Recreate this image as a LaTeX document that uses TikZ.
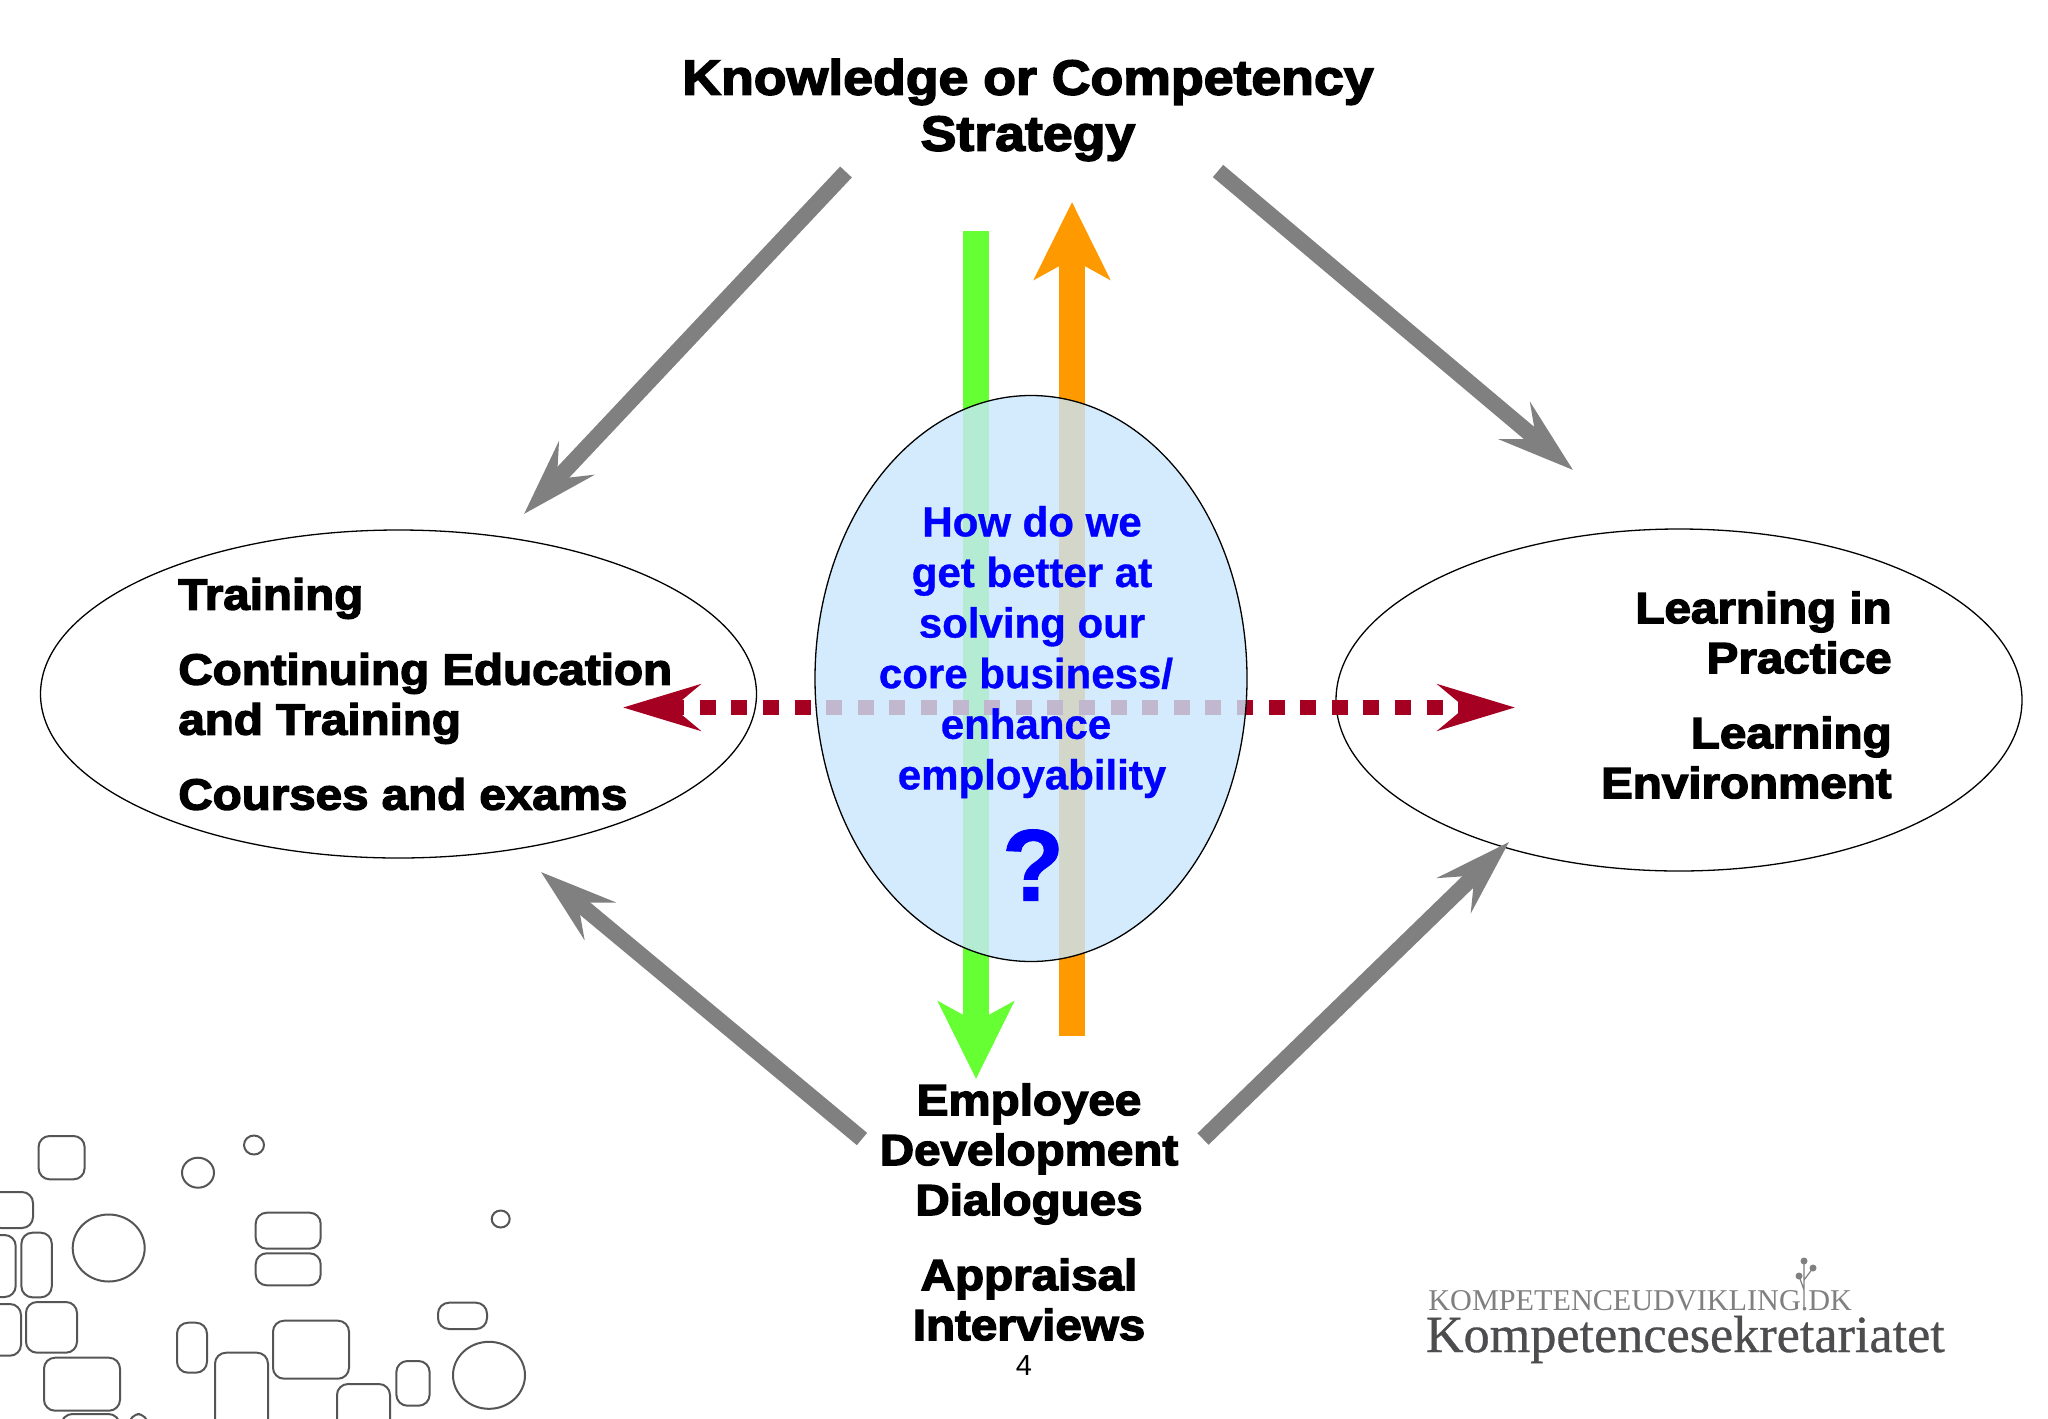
\documentclass[tikz,border=0pt]{standalone}
\usepackage{fontspec}
\setmainfont{Liberation Sans}
\newfontfamily\heavy[FakeBold=3.2,FakeStretch=1.09]{Liberation Sans Bold}
\newfontfamily\bluefont[FakeBold=0.8]{Liberation Sans Bold}
\newfontfamily\logofont{Liberation Serif}
\newfontfamily\logobold[FakeBold=0.6]{Liberation Serif}
\usetikzlibrary{arrows.meta,shapes.geometric,calc}
\definecolor{grayarrow}{HTML}{808080}
\definecolor{greenarrow}{HTML}{66FF33}
\definecolor{orangearrow}{HTML}{FF9900}
\definecolor{redarrow}{HTML}{A50021}
\definecolor{bubble}{RGB}{200,231,252}
\definecolor{blobline}{HTML}{555555}
\definecolor{logogray}{HTML}{808080}
\definecolor{logodark}{HTML}{4D4D4F}
\tikzset{
 x=0.5pt,y=-0.5pt,
 ell/.style={ellipse,draw=black,line width=0.65pt,inner sep=0pt,outer sep=0pt},
 grayline/.style={draw=grayarrow,line width=8pt,-{Stealth[length=38pt,width=24pt,inset=14pt,fill=grayarrow]}},
 bararrow/.style={line width=13pt},
 dotline/.style={draw=redarrow,line width=7.8pt,dash pattern=on 8pt off 7.8pt,dash phase=15pt,
   {Stealth[length=38.5pt,width=23pt,inset=13.5pt,fill=redarrow]}-{Stealth[length=38.5pt,width=23pt,inset=13.5pt,fill=redarrow]}},
 headtext/.style={font=\heavy\fontsize{21.8}{25}\selectfont,inner sep=0pt},
 titletext/.style={font=\heavy\fontsize{24.6}{28}\selectfont,inner sep=0pt,align=center},
 bluetext/.style={font=\bluefont\fontsize{21}{25.3}\selectfont,text=blue,inner sep=0pt,align=center},
 blob/.style={draw=blobline,line width=1pt,rounded corners=5.5pt},
}
\newcommand{\blobbox}[4]{\draw[blob] (#1,#3) rectangle (#2,#4);}
\newcommand{\blobring}[4]{\draw[draw=blobline,line width=1pt] (#1,#2) ellipse [x radius=#3*0.5pt,y radius=#4*0.5pt];}
\begin{document}
\begin{tikzpicture}
\useasboundingbox (0,0) rectangle (2048,1418);
\fill[white] (0,0) rectangle (2048,1418);
% decorative blobs
\blobbox{38.6}{84.6}{1136}{1179.3}
\blobbox{-10}{33}{1192}{1228}
\blobbox{-20}{15.7}{1235}{1297}
\blobbox{21.4}{51.8}{1232.7}{1297.3}
\blobbox{-20}{21}{1304}{1355.7}
\blobbox{26}{77}{1302}{1352.7}
\blobbox{44}{120}{1357.7}{1410.7}
\blobbox{61.4}{119.6}{1414}{1440}
\blobbox{129}{148}{1414}{1440}
\blobbox{255.7}{320.7}{1212.7}{1248.7}
\blobbox{255.7}{320.7}{1253.3}{1285.3}
\blobbox{177}{207}{1322.7}{1372.7}
\blobbox{215}{268}{1352.7}{1440}
\blobbox{273}{349}{1320.7}{1378.7}
\blobbox{337}{390}{1384}{1440}
\blobbox{396.4}{429.6}{1361}{1405.7}
\blobbox{438}{487}{1302.7}{1329}
\blobring{108.7}{1248}{36}{33.5}
\blobring{198}{1172.7}{16}{15}
\blobring{254}{1145}{10}{9.5}
\blobring{500.7}{1219}{9}{8.5}
\blobring{489}{1375.3}{36}{33.5}
% anchors of the connectors
\coordinate (gs1) at (846,172);   \coordinate (ge1) at (524,514);
\coordinate (gs2) at (1218,171);  \coordinate (ge2) at (1573,470);
\coordinate (gs3) at (862,1139);  \coordinate (ge3) at (541,872);
\coordinate (gs4) at (1203,1139); \coordinate (ge4) at (1509,842);
\coordinate (gns) at (976,231);   \coordinate (gne) at (976,1079);
\coordinate (ons) at (1072,1036); \coordinate (one) at (1072,202);
\coordinate (rl) at (623,707.5);  \coordinate (rr) at (1515,707.5);
% outer ellipses
\node[ell,minimum width=358pt,minimum height=164pt] (left) at (398.5,694) {};
\node[ell,minimum width=343pt,minimum height=171pt] (right) at (1679,700) {};
% connectors
\draw[grayline] (gs1) -- (ge1);
\draw[grayline] (gs2) -- (ge2);
\draw[grayline] (gs3) -- (ge3);
\draw[grayline] (gs4) -- (ge4);
\draw[bararrow,draw=greenarrow,-{Stealth[length=38.5pt,width=37.5pt,inset=10pt,fill=greenarrow]}] (gns) -- (gne);
\draw[bararrow,draw=orangearrow,-{Stealth[length=38.5pt,width=37.5pt,inset=10pt,fill=orangearrow]}] (ons) -- (one);
\draw[dotline] (rl) -- (rr);
% central bubble
\node[ell,fill=bubble,fill opacity=0.8,draw opacity=1,minimum width=216pt,minimum height=283pt] (mid) at (1031,678.5) {};
% texts
\node[titletext] (title) at (1028,110) {Knowledge or Competency\\Strategy};
\node[headtext,align=left,anchor=west] (ltext) at (178,694) {Training\\[12.5pt]Continuing Education\\and Training\\[12.5pt]Courses and exams};
\node[headtext,align=right,anchor=east] (rtext) at (1892,695) {Learning in\\Practice\\[12.5pt]Learning\\Environment};
\node[headtext,align=center] (btext) at (1029,1212) {Employee\\Development\\Dialogues\\[12.5pt]Appraisal\\Interviews};
\node[bluetext] (btxt) at (1032,652) {How do we\\get better at\\solving our\\core business/\rule{6pt}{0pt}\\enhance\rule{6pt}{0pt}\\employability};
\node[font=\bluefont\fontsize{51}{51}\selectfont,text=blue,inner sep=0pt] (qm) at (1033,865) {?};
\node[font=\fontsize{14.5}{16}\selectfont,inner sep=0pt] (pg) at (1024,1366) {4};
% logo
\node[font=\logofont\fontsize{15.1}{16}\selectfont,text=logogray,inner sep=0pt,anchor=base west] (lg1) at (1428,1310) {KOMPETENCEUDVIKLING.DK};
\node[font=\logobold\fontsize{26.1}{28}\selectfont,text=logodark,inner sep=0pt,anchor=base west] (lg2) at (1425.5,1352) {Kompetencesekretariatet};
\draw[logogray,line width=0.6pt] (1804,1310) -- (1804,1272) (1804,1290) -- (1799,1276) (1804,1280) -- (1813,1268) (1804,1278) -- (1804,1261);
\fill[logogray] (1804,1261) circle[radius=3.5] (1813,1268) circle[radius=3.5] (1799,1276) circle[radius=3.5];
\end{tikzpicture}
\end{document}
